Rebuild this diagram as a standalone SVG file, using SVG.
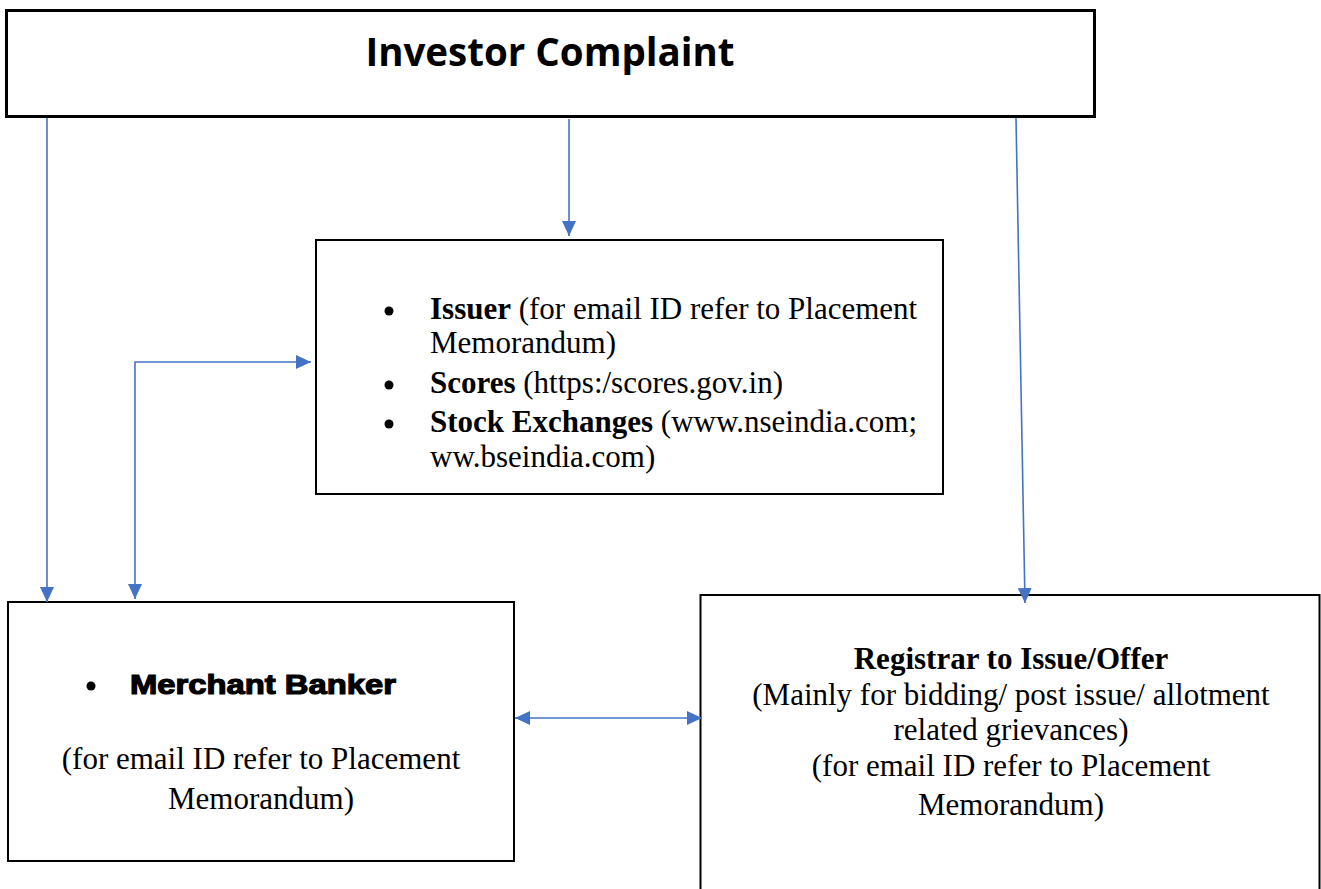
<svg xmlns="http://www.w3.org/2000/svg" width="1321" height="889" viewBox="0 0 1321 889">
<style>
.box{fill:#fff;stroke:#000}
.conn{fill:none;stroke:#4472C4;stroke-width:1.6}
.tm{font-family:"Liberation Serif","Times New Roman",serif;font-size:31px;fill:#000}
.b{font-weight:bold}
</style>
<defs>
<marker id="ah" markerUnits="userSpaceOnUse" markerWidth="16" markerHeight="14" refX="15" refY="7" orient="auto-start-reverse">
<path d="M0,0 L15,7 L0,14 Z" fill="#4472C4"/>
</marker>
</defs>
<rect width="1321" height="889" fill="#fff"/>
<g id="investor-complaint">
<rect class="box" x="6.5" y="10.5" width="1088" height="106" stroke-width="3"/>
<text x="550" y="66" text-anchor="middle" font-family="'Open Sans','Liberation Sans',sans-serif" font-weight="bold" font-size="38.5">Investor Complaint</text>
</g>
<g id="issuer-box">
<rect class="box" x="316" y="240" width="627" height="254" stroke-width="2"/>
<g class="tm">
<circle cx="389" cy="311" r="4.5"/>
<circle cx="389" cy="385" r="4.5"/>
<circle cx="389" cy="424" r="4.5"/>
<text x="430" y="319"><tspan class="b">Issuer</tspan> (for email ID refer to Placement</text>
<text x="430" y="353">Memorandum)</text>
<text x="430" y="393"><tspan class="b">Scores</tspan> (https:/scores.gov.in)</text>
<text x="430" y="432"><tspan class="b">Stock Exchanges</tspan> (www.nseindia.com;</text>
<text x="430" y="467">ww.bseindia.com)</text>
</g>
</g>
<g id="merchant-banker">
<rect class="box" x="8" y="602" width="506" height="259" stroke-width="2"/>
<circle cx="91" cy="686" r="4.5"/>
<text x="130" y="694" font-family="'Liberation Sans',Arial,sans-serif" font-weight="900" font-size="28" stroke="#000" stroke-width="1.2" textLength="266" lengthAdjust="spacingAndGlyphs">Merchant Banker</text>
<g class="tm" text-anchor="middle">
<text x="261" y="769">(for email ID refer to Placement</text>
<text x="261" y="809">Memorandum)</text>
</g>
</g>
<g id="registrar">
<rect class="box" x="700.5" y="595" width="619" height="310" stroke-width="2"/>
<g class="tm" text-anchor="middle">
<text x="1011" y="669" class="b">Registrar to Issue/Offer</text>
<text x="1011" y="705">(Mainly for bidding/ post issue/ allotment</text>
<text x="1011" y="740">related grievances)</text>
<text x="1011" y="776">(for email ID refer to Placement</text>
<text x="1011" y="815">Memorandum)</text>
</g>
</g>
<g id="connectors">
<line class="conn" x1="47" y1="118" x2="47" y2="602" marker-end="url(#ah)"/>
<line class="conn" x1="569" y1="119" x2="569" y2="236" marker-end="url(#ah)"/>
<line class="conn" x1="1016" y1="118" x2="1025" y2="603" marker-end="url(#ah)"/>
<polyline class="conn" points="135,599 135,362 311,362" marker-start="url(#ah)" marker-end="url(#ah)"/>
<line class="conn" x1="515" y1="718" x2="702" y2="718" marker-start="url(#ah)" marker-end="url(#ah)"/>
</g>
</svg>
